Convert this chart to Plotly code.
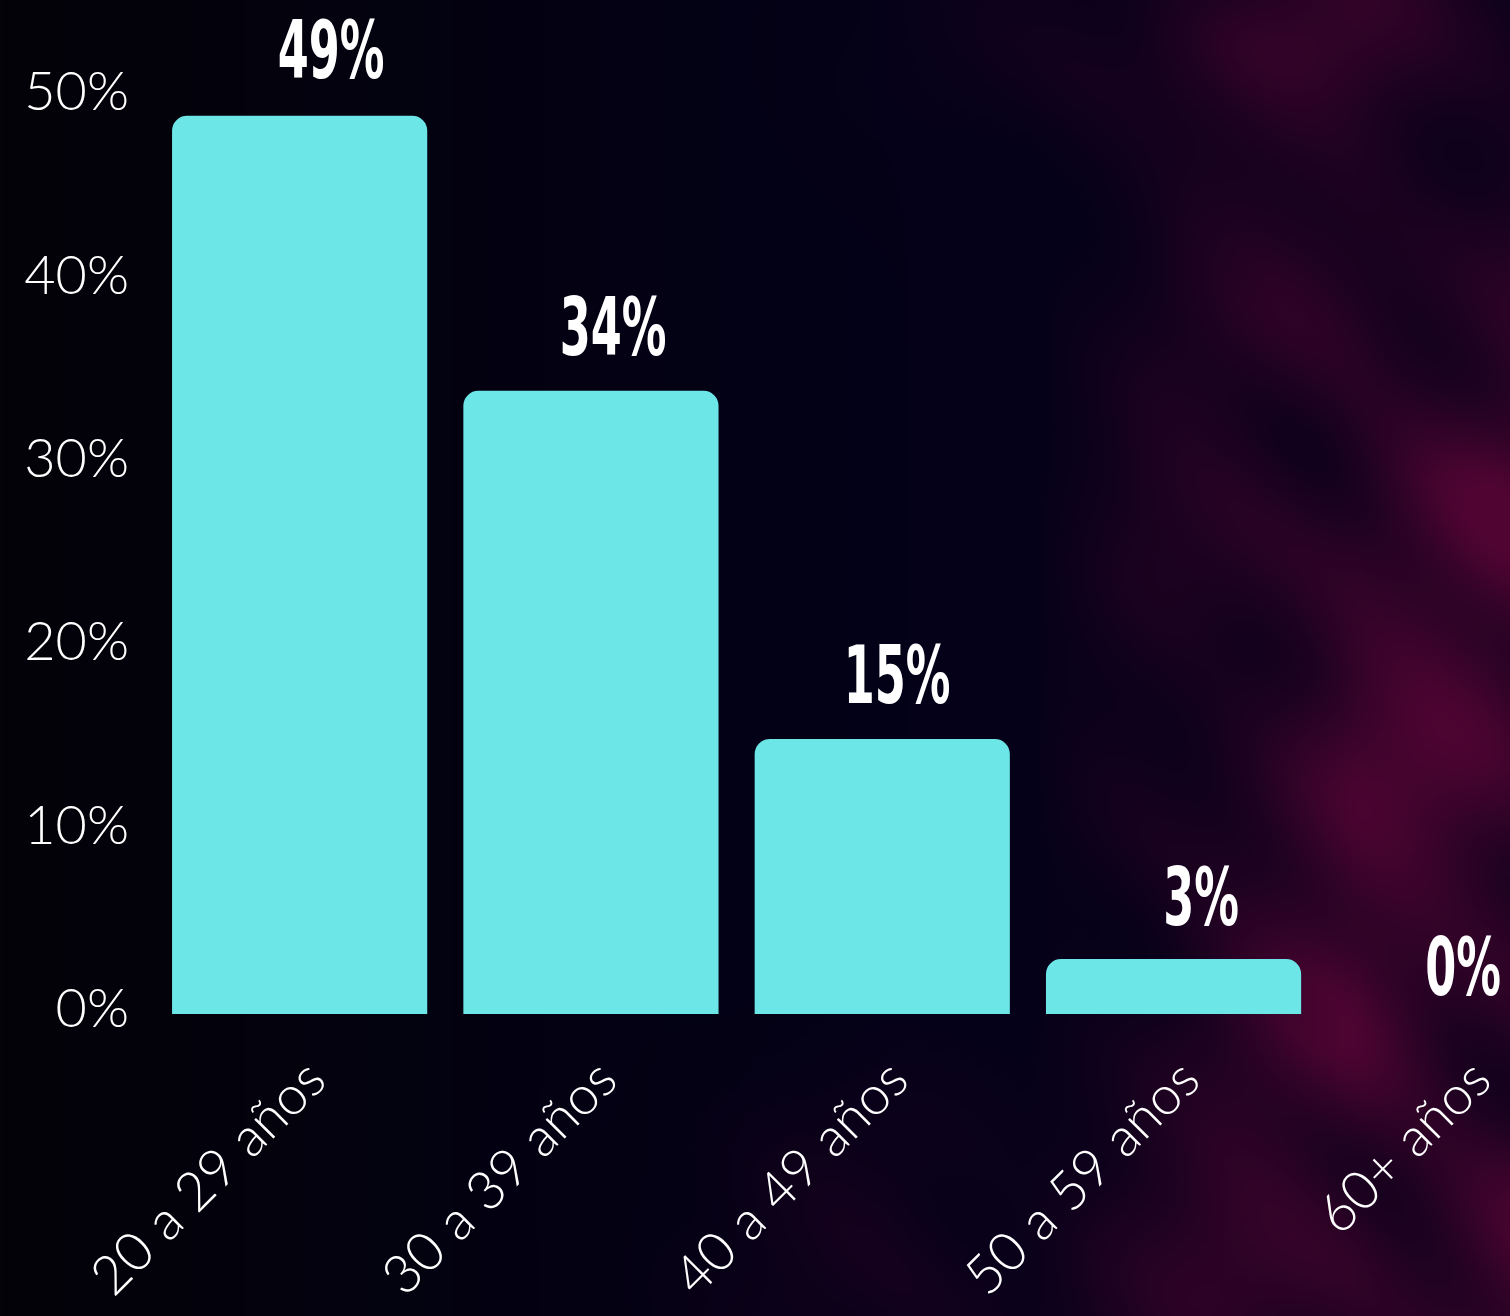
import base64
import struct
import zlib

import numpy as np
import plotly.graph_objects as go

# Age distribution
age_groups = ["20 a 29 años", "30 a 39 años", "40 a 49 años", "50 a 59 años", "60+ años"]
share_pct = [49, 34, 15, 3, 0]
y_ticks = [0, 10, 20, 30, 40, 50]

# small per-label nudges (pixels) for the value labels
label_nudge_x = [31, 22, 15, 27, -2]
label_nudge_y = [34, 32, 32, 30, 15]

W, H = 1510, 1316
M_L, M_R, M_T, M_B = 154, 0, 0, 302
PX_PER_PCT = 18.33

BAR_COLOR = "#6de6e8"
BG_COLOR = "#03030d"


def smoke_background(w=378, h=330):
    """Dark navy backdrop with a crimson smoke haze drifting in from the right."""
    xs = np.linspace(0, 1, w)[None, :]
    ys = np.linspace(0, 1, h)[:, None]
    left = np.array([3, 3, 9], float)
    navy = np.array([4, 1, 24], float)
    crimson = np.array([84, 5, 52], float)
    t = np.clip(xs / 0.6, 0, 1)
    base = left[None, None, :] * (1 - t[..., None]) + navy[None, None, :] * t[..., None]
    base = np.broadcast_to(base, (h, w, 3)).copy()

    # where the smoke lives
    right = np.clip((xs - 0.68) / 0.22, 0, 1)
    body = right * (0.40 + 0.60 * np.clip((ys - 0.08) / 0.28, 0, 1))
    top_wisp = np.exp(-(((xs - 0.80) / 0.10) ** 2 + ((ys - 0.02) / 0.06) ** 2) / 2) * 0.45
    low_wisp = np.exp(-(((xs - 0.62) / 0.10) ** 2 + ((ys - 0.95) / 0.08) ** 2) / 2) * 0.30
    mask = np.clip(body + top_wisp + low_wisp, 0, 1)

    # wispy modulation
    tex = (0.62
           + 0.20 * np.sin(23 * xs + 9 * ys)
           + 0.16 * np.sin(-11 * xs + 29 * ys + 1.3) * np.cos(17 * xs + 5 * ys)
           + 0.12 * np.sin(41 * xs - 37 * ys + 0.7))
    tex = np.clip(tex, 0, 1)
    s = np.clip(mask * tex * 0.95, 0, 1)
    img = base * (1 - s[..., None]) + crimson[None, None, :] * s[..., None]
    return np.clip(img, 0, 255).astype(np.uint8)


def png_uri(arr):
    h, w, _ = arr.shape
    raw = b"".join(b"\x00" + arr[i].tobytes() for i in range(h))

    def chunk(tag, data):
        c = struct.pack(">I", len(data)) + tag + data
        return c + struct.pack(">I", zlib.crc32(tag + data) & 0xFFFFFFFF)

    png = b"\x89PNG\r\n\x1a\n"
    png += chunk(b"IHDR", struct.pack(">IIBBBBB", w, h, 8, 2, 0, 0, 0))
    png += chunk(b"IDAT", zlib.compress(raw, 9))
    png += chunk(b"IEND", b"")
    return "data:image/png;base64," + base64.b64encode(png).decode()


plot_w = W - M_L - M_R
plot_h = H - M_T - M_B
step_px = 291.3
x_lo = -0.5
x_hi = x_lo + plot_w / step_px
y_hi = plot_h / PX_PER_PCT

fig = go.Figure()
fig.add_trace(
    go.Bar(
        x=list(range(len(age_groups))),
        y=share_pct,
        marker=dict(color=BAR_COLOR, line=dict(width=0)),
        hoverinfo="skip",
    )
)

for i, v in enumerate(share_pct):
    fig.add_annotation(
        x=i, y=v, xref="x", yref="y",
        text=f"{v}%",
        showarrow=False,
        xanchor="center", yanchor="bottom",
        xshift=label_nudge_x[i], yshift=label_nudge_y[i] - 17,
        font=dict(family="DejaVu Sans Condensed, DejaVu Sans, sans-serif",
                  size=80, color="#ffffff", weight="bold"),
    )

fig.update_layout(
    width=W, height=H,
    margin=dict(l=M_L, r=M_R, t=M_T, b=M_B, autoexpand=False),
    paper_bgcolor=BG_COLOR,
    plot_bgcolor="rgba(0,0,0,0)",
    bargap=0.124,
    showlegend=False,
    images=[dict(
        source=png_uri(smoke_background()),
        xref="paper", yref="paper",
        x=-M_L / plot_w, y=1 + M_T / plot_h,
        sizex=W / plot_w, sizey=H / plot_h,
        xanchor="left", yanchor="top",
        sizing="stretch", layer="below",
    )],
    xaxis=dict(
        range=[x_lo, x_hi],
        tickvals=list(range(len(age_groups))),
        ticktext=age_groups,
        tickangle=-45,
        tickfont=dict(family="Lato, Inter, sans-serif", size=54, color="#ffffff", weight=300),
        showgrid=False, zeroline=False, showline=False,
        ticks="", ticklabelstandoff=22, ticklabelshift=10,
        automargin=False, fixedrange=True,
    ),
    yaxis=dict(
        range=[0, y_hi],
        tickvals=y_ticks,
        ticktext=[f"{t}%" for t in y_ticks],
        tickfont=dict(family="Lato, Inter, sans-serif", size=54, color="#ffffff", weight=300),
        showgrid=False, zeroline=False, showline=False,
        ticks="", ticklabelstandoff=24, ticklabelshift=-6,
        automargin=False, fixedrange=True,
    ),
    barcornerradius=15,
)

# narrow the bold value labels into a tall condensed figure style
condense_js = """
(function () {
  var gd = document.getElementById('{plot_id}');
  function condense() {
    gd.querySelectorAll('.annotation-text').forEach(function (t) {
      t.style.transformBox = 'fill-box';
      t.style.transformOrigin = 'center';
      t.style.transform = 'scaleX(0.62)';
    });
  }
  condense();
  if (gd.on) { gd.on('plotly_afterplot', condense); }
  setTimeout(condense, 0);
})();
"""

fig.write_html("out.html", config={"displayModeBar": False}, post_script=condense_js)
